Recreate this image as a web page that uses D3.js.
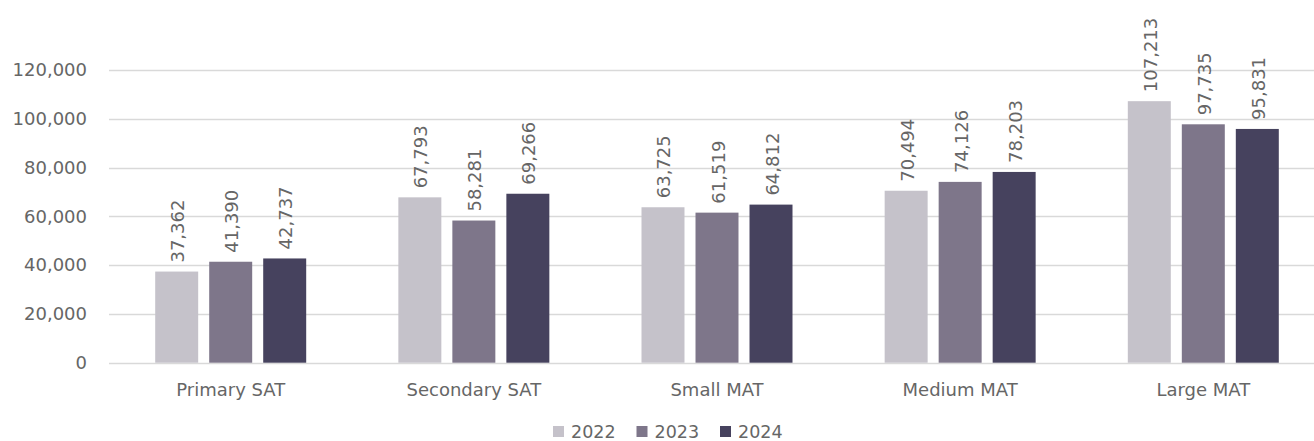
<!DOCTYPE html>
<html>
<head>
<meta charset="utf-8">
<script src="https://cdn.jsdelivr.net/npm/d3@7"></script>
<style>
  body { margin: 0; background: #fff; }
  text { font-family: "DejaVu Sans", Verdana, sans-serif; fill: #666; }
</style>
</head>
<body>
<div id="chart"></div>
<script>
// data
const categories = ["Primary SAT", "Secondary SAT", "Small MAT", "Medium MAT", "Large MAT"];
const years = ["2022", "2023", "2024"];
const values2022 = [37362, 67793, 63725, 70494, 107213];
const values2023 = [41390, 58281, 61519, 74126, 97735];
const values2024 = [42737, 69266, 64812, 78203, 95831];
const yTicks = [0, 20000, 40000, 60000, 80000, 100000, 120000];
const colors = ["#c5c2ca", "#7e768a", "#46425e"];

const width = 1314, height = 441;
const series = [values2022, values2023, values2024];
const rows = categories.map((c, i) => ({cat: c, vals: years.map((y, j) => ({year: y, value: series[j][i]}))}));

const svg = d3.select("#chart").append("svg")
  .attr("width", width)
  .attr("height", height);

// scales
const x0 = d3.scaleBand().domain(categories).range([109, 1325])
  .paddingInner(0.379).paddingOuter(0.19);
const x1 = d3.scaleBand().domain(years).range([0, x0.bandwidth()])
  .paddingInner(0.204);
const y = d3.scaleLinear().domain([0, 140000]).range([362.7, 21.2]);

// gridlines
svg.append("g").selectAll("line")
  .data(yTicks)
  .join("line")
  .attr("x1", 109).attr("x2", width)
  .attr("y1", d => Math.round(y(d)) + 0.5)
  .attr("y2", d => Math.round(y(d)) + 0.5)
  .attr("stroke", "#d9d9d9").attr("stroke-width", 1.3);

// y axis labels
const yAxis = svg.append("g")
  .attr("transform", "translate(87,0)")
  .call(d3.axisLeft(y).tickValues(yTicks).tickSize(0).tickPadding(0).tickFormat(d3.format(",")));
yAxis.select(".domain").remove();
yAxis.selectAll("text").style("font-size", "18px").attr("fill", "#666")
  .style("font-family", "'DejaVu Sans', Verdana, sans-serif");

// x axis labels
const xAxis = svg.append("g")
  .attr("transform", "translate(0,383)")
  .call(d3.axisBottom(x0).tickSize(0).tickPadding(0));
xAxis.select(".domain").remove();
xAxis.selectAll("text").style("font-size", "18px").attr("fill", "#666")
  .style("font-family", "'DejaVu Sans', Verdana, sans-serif");

// bars
const groups = svg.append("g").selectAll("g")
  .data(rows)
  .join("g")
  .attr("transform", d => "translate(" + x0(d.cat) + ",0)");

groups.selectAll("rect")
  .data(d => d.vals)
  .join("rect")
  .attr("x", d => x1(d.year))
  .attr("y", d => y(d.value))
  .attr("width", x1.bandwidth())
  .attr("height", d => y(0) - y(d.value))
  .attr("fill", (d, i) => colors[i]);

// value labels
groups.selectAll("text.val")
  .data(d => d.vals)
  .join("text")
  .attr("class", "val")
  .attr("transform", d => "translate(" + (x1(d.year) + x1.bandwidth() / 2 + 1) + "," + (y(d.value) - 9) + ") rotate(-90)")
  .attr("dominant-baseline", "central")
  .style("font-size", "18px")
  .text(d => d3.format(",")(d.value));

// legend
const legend = svg.append("g").selectAll("g")
  .data(years)
  .join("g")
  .attr("transform", (d, i) => "translate(" + (553 + i * 83.5) + ",426)");
legend.append("rect")
  .attr("width", 11).attr("height", 11)
  .attr("fill", (d, i) => colors[i]);
legend.append("text")
  .attr("x", 18).attr("y", 5.5)
  .attr("dominant-baseline", "central")
  .style("font-size", "17.5px")
  .text(d => d);
</script>
</body>
</html>
